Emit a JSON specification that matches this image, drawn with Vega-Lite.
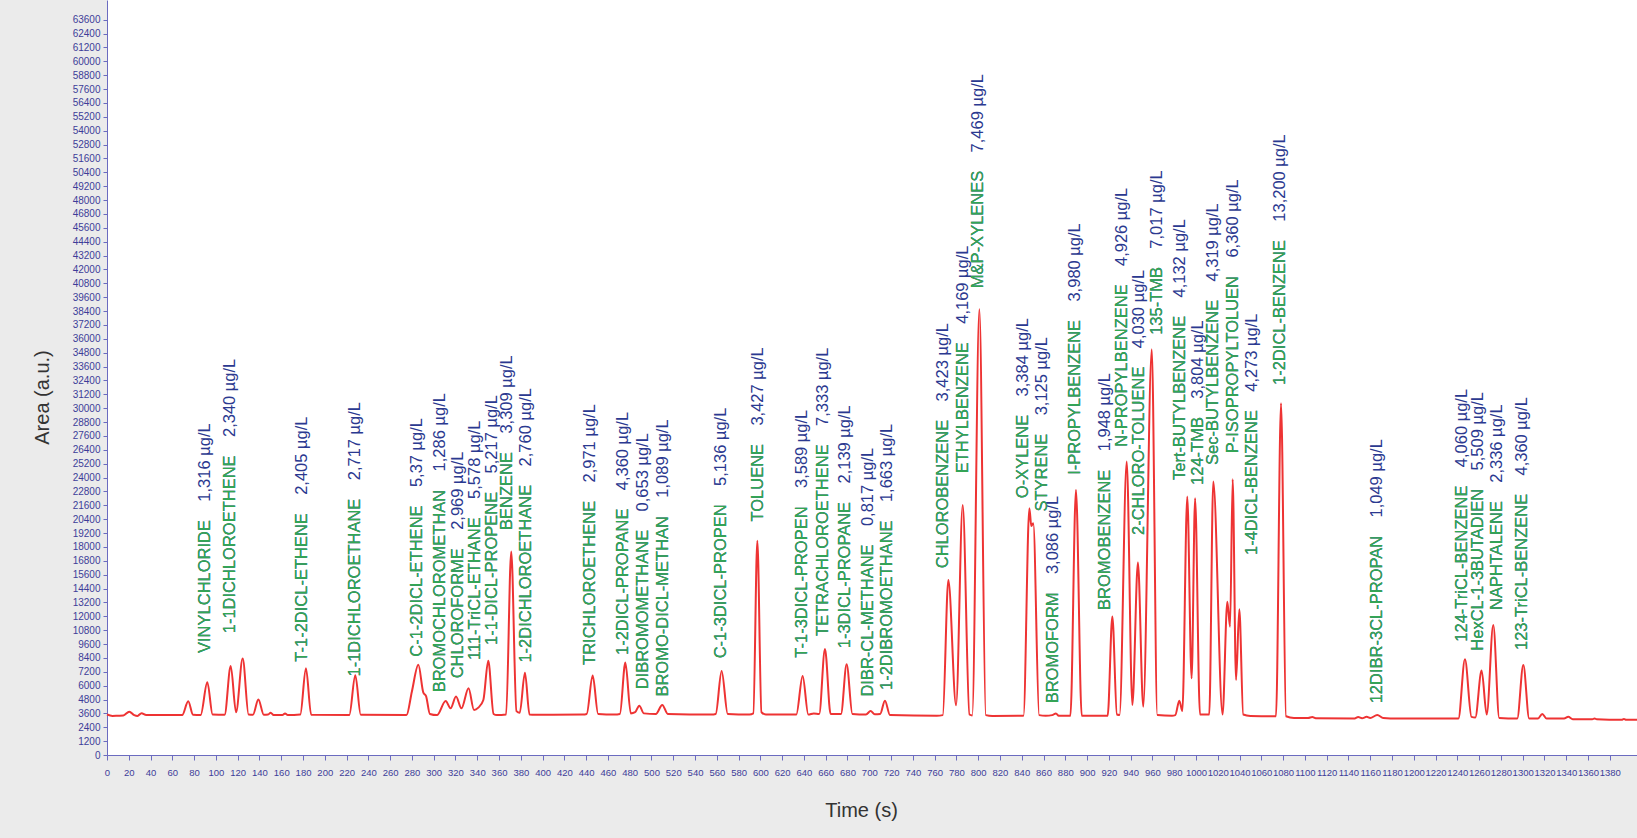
{
  "$schema": "https://vega.github.io/schema/vega-lite/v6.json",
  "width": 1530,
  "height": 755,
  "autosize": {"type": "none"},
  "padding": {"left": 107, "top": 0, "right": 0, "bottom": 83},
  "background": "#ebebeb",
  "view": {"fill": "white", "stroke": null},
  "config": {
    "axis": {
      "grid": false,
      "domainColor": "#6b6bc0",
      "tickColor": "#6b6bc0",
      "labelColor": "#3d3d99",
      "labelFont": "Liberation Sans",
      "titleFont": "Liberation Sans",
      "titleFontWeight": "normal",
      "titleColor": "#333333",
      "titleFontSize": 20
    }
  },
  "datasets": {
    "curve": [
      {"t":0,"a":3500},{"t":5,"a":3380},{"t":10,"a":3400},{"t":15,"a":3420},{"t":20.5,"a":3750},{"t":25,"a":3450},{"t":28,"a":3380},{"t":31.7,"a":3620},{"t":36,"a":3450},{"t":69,"a":3450},{"t":74.6,"a":4650},{"t":79,"a":3480},{"t":86,"a":3460},{"t":92.1,"a":6300},{"t":97,"a":3500},{"t":108,"a":3480},{"t":113.6,"a":7700},{"t":118.5,"a":3700},{"t":124.6,"a":8350},{"t":130,"a":3500},{"t":134,"a":3480},{"t":139,"a":4800},{"t":144,"a":3480},{"t":148,"a":3500},{"t":150.3,"a":3650},{"t":153,"a":3450},{"t":161,"a":3450},{"t":163.5,"a":3600},{"t":166,"a":3450},{"t":177.5,"a":3500},{"t":182.7,"a":7500},{"t":187.5,"a":3480},{"t":222.5,"a":3450},{"t":228,"a":6900},{"t":233,"a":3480},{"t":275,"a":3450},{"t":280,"a":5500},{"t":285.9,"a":7800},{"t":290.5,"a":5400},{"t":293,"a":5100},{"t":296.5,"a":3550},{"t":303,"a":3450},{"t":311,"a":4670},{"t":315.5,"a":4040},{"t":320.5,"a":5050},{"t":325.5,"a":4040},{"t":332,"a":5770},{"t":337,"a":3900},{"t":341,"a":4100},{"t":345.6,"a":4760},{"t":350.1,"a":8160},{"t":355,"a":3550},{"t":358,"a":3450},{"t":366.5,"a":3500},{"t":371.2,"a":17590},{"t":376,"a":3800},{"t":379,"a":3650},{"t":383.8,"a":7120},{"t":388,"a":3500},{"t":393,"a":3480},{"t":437,"a":3500},{"t":440.5,"a":3550},{"t":446,"a":6870},{"t":451,"a":3550},{"t":466,"a":3500},{"t":471,"a":3550},{"t":476,"a":7990},{"t":481,"a":3600},{"t":485,"a":3700},{"t":488.8,"a":4270},{"t":493,"a":3600},{"t":504,"a":3550},{"t":509.9,"a":4330},{"t":515,"a":3550},{"t":555,"a":3500},{"t":559,"a":3550},{"t":564.4,"a":7270},{"t":570,"a":3550},{"t":590,"a":3500},{"t":593.5,"a":3600},{"t":597.2,"a":18540},{"t":601,"a":3700},{"t":605,"a":3500},{"t":633,"a":3500},{"t":638.8,"a":6840},{"t":644,"a":3500},{"t":649,"a":3600},{"t":654,"a":3550},{"t":659.3,"a":9170},{"t":664.5,"a":3550},{"t":674,"a":3550},{"t":679.2,"a":7850},{"t":684.5,"a":3550},{"t":697,"a":3500},{"t":701.2,"a":3810},{"t":705,"a":3520},{"t":710,"a":3550},{"t":714.4,"a":4700},{"t":719,"a":3450},{"t":762,"a":3400},{"t":767.5,"a":3450},{"t":772.6,"a":15140},{"t":779.7,"a":4300},{"t":785.8,"a":21630},{"t":792,"a":3500},{"t":794.5,"a":3420},{"t":801.1,"a":38560},{"t":807,"a":3450},{"t":813,"a":3380},{"t":841.6,"a":3400},{"t":847,"a":21340},{"t":848.8,"a":19800},{"t":850.6,"a":20050},{"t":856,"a":3450},{"t":862,"a":3400},{"t":868,"a":3450},{"t":871.4,"a":3600},{"t":874,"a":3400},{"t":884.7,"a":3400},{"t":889.8,"a":22930},{"t":895.1,"a":3400},{"t":918.9,"a":3400},{"t":923.2,"a":11970},{"t":927.4,"a":3500},{"t":929.8,"a":3450},{"t":936.4,"a":25380},{"t":941.6,"a":4330},{"t":946.7,"a":16640},{"t":951.6,"a":4180},{"t":959.4,"a":35100},{"t":964.5,"a":3450},{"t":978,"a":3400},{"t":981,"a":3450},{"t":984.7,"a":4700},{"t":987.5,"a":3800},{"t":992,"a":22350},{"t":996,"a":6630},{"t":999.2,"a":22210},{"t":1003.7,"a":3500},{"t":1012.2,"a":3500},{"t":1015.9,"a":23650},{"t":1024.4,"a":3500},{"t":1028.8,"a":13260},{"t":1031.3,"a":11100},{"t":1033.7,"a":23850},{"t":1036.8,"a":6490},{"t":1039.8,"a":12600},{"t":1043.4,"a":3500},{"t":1050,"a":3380},{"t":1073.5,"a":3350},{"t":1078.1,"a":30430},{"t":1082.7,"a":3350},{"t":1090,"a":3200},{"t":1103,"a":3200},{"t":1106.8,"a":3280},{"t":1110,"a":3180},{"t":1145,"a":3150},{"t":1149,"a":3280},{"t":1152.5,"a":3180},{"t":1156.7,"a":3300},{"t":1160,"a":3200},{"t":1166.5,"a":3460},{"t":1172,"a":3200},{"t":1185,"a":3150},{"t":1241,"a":3150},{"t":1247,"a":8280},{"t":1253,"a":3300},{"t":1256.5,"a":3250},{"t":1262.3,"a":7300},{"t":1267,"a":3500},{"t":1273,"a":11250},{"t":1278.5,"a":3200},{"t":1295,"a":3150},{"t":1300.6,"a":7790},{"t":1306,"a":3150},{"t":1314,"a":3150},{"t":1318,"a":3550},{"t":1322,"a":3150},{"t":1338,"a":3150},{"t":1341.9,"a":3300},{"t":1346,"a":3100},{"t":1364,"a":3100},{"t":1366,"a":3150},{"t":1368,"a":3100},{"t":1391,"a":3050},{"t":1393,"a":3120},{"t":1395,"a":3050},{"t":1405,"a":3050}
    ],
    "labels": [
      {"name":"VINYLCHLORIDE","conc":"1,316 µg/L","t":90.0,"a":8825},
      {"name":"1-1DICHLOROETHENE","conc":"2,340 µg/L","t":112.9,"a":10530},
      {"name":"T-1-2DICL-ETHENE","conc":"2,405 µg/L","t":178.7,"a":8070},
      {"name":"1-1DICHLOROETHANE","conc":"2,717 µg/L","t":227.7,"a":6790},
      {"name":"C-1-2DICL-ETHENE","conc":"5,37 µg/L","t":284.4,"a":8500},
      {"name":"BROMOCHLOROMETHAN","conc":"1,286 µg/L","t":305.8,"a":5420},
      {"name":"CHLOROFORME","conc":"2,969 µg/L","t":322.6,"a":6630},
      {"name":"111-TriCL-ETHANE","conc":"5,578 µg/L","t":337.9,"a":8220},
      {"name":"1-1-DICL-PROPENE","conc":"5,217 µg/L","t":353.3,"a":9520},
      {"name":"BENZENE","conc":"3,309 µg/L","t":367.7,"a":19470},
      {"name":"1-2DICHLOROETHANE","conc":"2,760 µg/L","t":384.6,"a":7990},
      {"name":"TRICHLOROETHENE","conc":"2,971 µg/L","t":443.5,"a":7790},
      {"name":"1-2DICL-PROPANE","conc":"4,360 µg/L","t":474.1,"a":8650},
      {"name":"DIBROMOMETHANE","conc":"0,653 µg/L","t":492.5,"a":5680},
      {"name":"BROMO-DICL-METHAN","conc":"1,089 µg/L","t":510.9,"a":5050},
      {"name":"C-1-3DICL-PROPEN","conc":"5,136 µg/L","t":563.4,"a":8360},
      {"name":"TOLUENE","conc":"3,427 µg/L","t":598.1,"a":20190},
      {"name":"T-1-3DICL-PROPEN","conc":"3,589 µg/L","t":637.9,"a":8420},
      {"name":"TETRACHLOROETHENE","conc":"7,333 µg/L","t":657.8,"a":10300},
      {"name":"1-3DICL-PROPANE","conc":"2,139 µg/L","t":677.7,"a":9230},
      {"name":"DIBR-CL-METHANE","conc":"0,817 µg/L","t":699.2,"a":5050},
      {"name":"1-2DIBROMOETHANE","conc":"1,663 µg/L","t":716.0,"a":5620},
      {"name":"CHLOROBENZENE","conc":"3,423 µg/L","t":767.4,"a":16150},
      {"name":"ETHYLBENZENE","conc":"4,169 µg/L","t":786.4,"a":24370},
      {"name":"M&P-XYLENES","conc":"7,469 µg/L","t":800.2,"a":40380},
      {"name":"O-XYLENE","conc":"3,384 µg/L","t":841.4,"a":22210},
      {"name":"STYRENE","conc":"3,125 µg/L","t":858.3,"a":21050},
      {"name":"BROMOFORM","conc":"3,086 µg/L","t":869.0,"a":4470},
      {"name":"I-PROPYLBENZENE","conc":"3,980 µg/L","t":888.9,"a":24230},
      {"name":"BROMOBENZENE","conc":"1,948 µg/L","t":916.4,"a":12550},
      {"name":"N-PROPYLBENZENE","conc":"4,926 µg/L","t":931.8,"a":26670},
      {"name":"2-CHLORO-TOLUENE","conc":"4,030 µg/L","t":948.0,"a":19030},
      {"name":"135-TMB","conc":"7,017 µg/L","t":963.9,"a":36340},
      {"name":"Tert-BUTYLBENZENE","conc":"4,132 µg/L","t":985.3,"a":23790},
      {"name":"124-TMB","conc":"3,804 µg/L","t":1002.2,"a":23360},
      {"name":"Sec-BUTYLBENZENE","conc":"4,319 µg/L","t":1015.9,"a":25090},
      {"name":"P-ISOPROPYLTOLUEN","conc":"6,360 µg/L","t":1034.3,"a":26100},
      {"name":"1-4DICL-BENZENE","conc":"4,273 µg/L","t":1051.2,"a":17300},
      {"name":"1-2DICL-BENZENE","conc":"13,200 µg/L","t":1077.1,"a":32010},
      {"name":"12DIBR-3CL-PROPAN","conc":"1,049 µg/L","t":1165.9,"a":4470},
      {"name":"124-TriCL-BENZENE","conc":"4,060 µg/L","t":1244.0,"a":9800},
      {"name":"HexCL-1-3BUTADIEN","conc":"5,509 µg/L","t":1259.2,"a":9020},
      {"name":"NAPHTALENE","conc":"2,336 µg/L","t":1276.1,"a":12550},
      {"name":"123-TriCL-BENZENE","conc":"4,360 µg/L","t":1299.1,"a":9080}
    ]
  },
  "encoding": {
    "x": {
      "field": "t", "type": "quantitative",
      "scale": {"domain": [0, 1405], "nice": false, "zero": false},
      "axis": {
        "title": "Time (s)",
        "values": [0,20,40,60,80,100,120,140,160,180,200,220,240,260,280,300,320,340,360,380,400,420,440,460,480,500,520,540,560,580,600,620,640,660,680,700,720,740,760,780,800,820,840,860,880,900,920,940,960,980,1000,1020,1040,1060,1080,1100,1120,1140,1160,1180,1200,1220,1240,1260,1280,1300,1320,1340,1360,1380],
        "format": "d",
        "labelOverlap": false,
        "labelFontSize": 9.5,
        "labelPadding": 7,
        "tickSize": 5,
        "labelFlush": false,
        "titleX": 754,
        "titleY": 55,
        "titleAlign": "center",
        "titleBaseline": "middle"
      }
    },
    "y": {
      "field": "a", "type": "quantitative",
      "scale": {"domain": [0, 65300], "nice": false},
      "axis": {
        "title": "Area (a.u.)",
        "values": [0,1200,2400,3600,4800,6000,7200,8400,9600,10800,12000,13200,14400,15600,16800,18000,19200,20400,21600,22800,24000,25200,26400,27600,28800,30000,31200,32400,33600,34800,36000,37200,38400,39600,40800,42000,43200,44400,45600,46800,48000,49200,50400,51600,52800,54000,55200,56400,57600,58800,60000,61200,62400,63600],
        "format": "d",
        "labelOverlap": false,
        "labelFontSize": 10,
        "labelPadding": 3,
        "tickSize": 4,
        "labelFlush": false,
        "titleX": -65,
        "titleY": 397,
        "titleAngle": -90,
        "titleAlign": "center",
        "titleBaseline": "middle"
      }
    }
  },
  "layer": [
    {
      "data": {"name": "curve"},
      "mark": {"type": "line", "interpolate": "monotone", "color": "#ee3333", "strokeWidth": 2}
    },
    {
      "data": {"name": "labels"},
      "transform": [{"calculate": "datum.name + '\u00a0\u00a0\u00a0\u00a0' + datum.conc", "as": "full"}],
      "mark": {"type": "text", "angle": 270, "align": "left", "baseline": "middle", "font": "Liberation Sans", "fontSize": 16.5, "color": "#2b3990"},
      "encoding": {"text": {"field": "full"}}
    },
    {
      "data": {"name": "labels"},
      "mark": {"type": "text", "angle": 270, "align": "left", "baseline": "middle", "font": "Liberation Sans", "fontSize": 16.5, "color": "#33a852"},
      "encoding": {"text": {"field": "name"}}
    }
  ]
}
